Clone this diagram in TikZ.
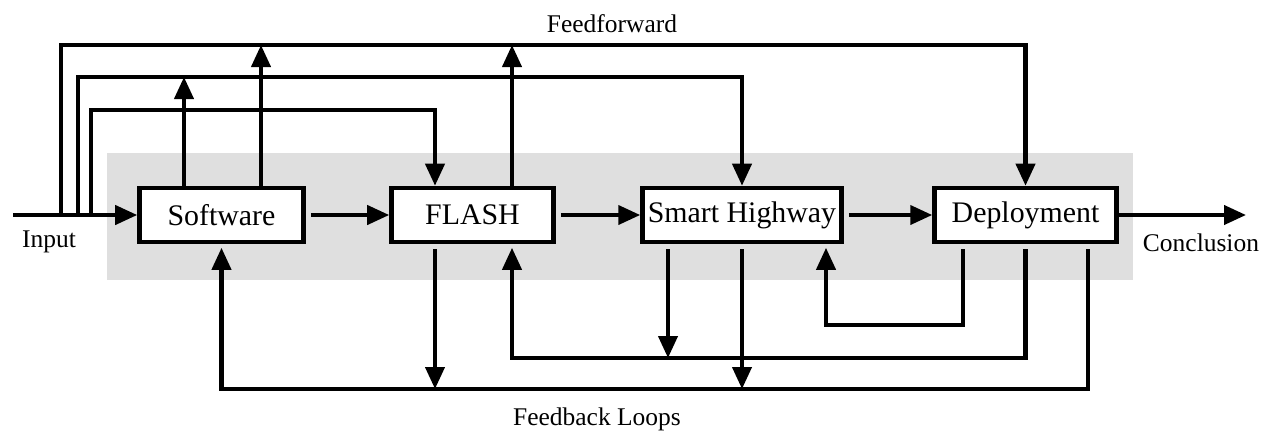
\documentclass[tikz,border=0pt]{standalone}
\usepackage{fontspec}
\setmainfont{Liberation Serif}
\usetikzlibrary{arrows.meta}

\tikzset{
    stage/.style={draw, line width=2.6pt, fill=white, inner sep=0pt,
        minimum height=1.08cm, font=\fontsize{17}{20}\selectfont},
    arr/.style={line width=2.3pt, -{Triangle[length=0.44cm,width=0.38cm]}},
    lbl/.style={font=\fontsize{14.5}{17}\selectfont},
    offbox/.style={shorten <=0.1cm},
    intobox/.style={shorten >=0.07cm}
}

\begin{document}
\begin{tikzpicture}[x=0.02cm, y=-0.02cm]
            \useasboundingbox (0,0) rectangle (1270,430);
            \fill[gray!25] (107,153) rectangle (1133,280);

            \node[stage, minimum width=3.28cm] (soft) at (221.5,215) {Software};
            \node[stage, minimum width=3.24cm] (flash) at (472.5,215) {FLASH};
            \node[stage, minimum width=3.98cm] (sh) at (742,215) {Smart Highway};
            \node[stage, minimum width=3.64cm] (dep) at (1025.5,215) {Deployment};

            \node[lbl] (input) at (49,242) {Input};
            \node[lbl] (concl) at (1201,243) {Conclusion};
            \node[lbl] (ffwd) at (612,24) {Feedforward};
            \node[lbl] (fbl) at (597,419) {Feedback Loops};

            \coordinate (start) at (13,215);
            \coordinate (stop) at (1246,215);
            \coordinate (ffa) at (0,45);
            \coordinate (ffb) at (0,77);
            \coordinate (ffc) at (0,110);
            \coordinate (fba) at (0,389);
            \coordinate (fbb) at (0,358);
            \coordinate (fbc) at (0,325);

            % main chain
            \draw[arr] (start) -- (soft.west);
            \draw[arr, offbox] (soft.east) -- (flash.west);
            \draw[arr, offbox] (flash.east) -- (sh.west);
            \draw[arr, offbox] (sh.east) -- (dep.west);
            \draw[arr] (dep.east) -- (stop);

            % feedforward
            \draw[arr] (61,0 |- start) |- (61,0 |- ffa) -| (dep.north);
            \draw[arr] (78,0 |- start) |- (78,0 |- ffb) -| (sh.north);
            \draw[arr] (91,0 |- start) |- (91,0 |- ffc) -| (435,0 |- flash.north);
            \draw[arr] (184,0 |- soft.north) -- (184,0 |- ffb);
            \draw[arr] (261,0 |- soft.north) -- (261,0 |- ffa);
            \draw[arr] (512,0 |- flash.north) -- (512,0 |- ffa);

            % feedback
            \draw[arr, offbox, intobox] (1088,0 |- dep.south) |- (soft.south |- fba) -- (soft.south);
            \draw[arr, offbox] (435,0 |- flash.south) -- (435,0 |- fba);
            \draw[arr, offbox] (sh.south) -- (sh.south |- fba);
            \draw[arr, offbox, intobox] (dep.south) |- (512,0 |- fbb) -- (512,0 |- flash.south);
            \draw[arr, offbox] (668,0 |- sh.south) -- (668,0 |- fbb);
            \draw[arr, offbox, intobox] (963,0 |- dep.south) |- (826,0 |- fbc) -- (826,0 |- sh.south);
\end{tikzpicture}
\end{document}
